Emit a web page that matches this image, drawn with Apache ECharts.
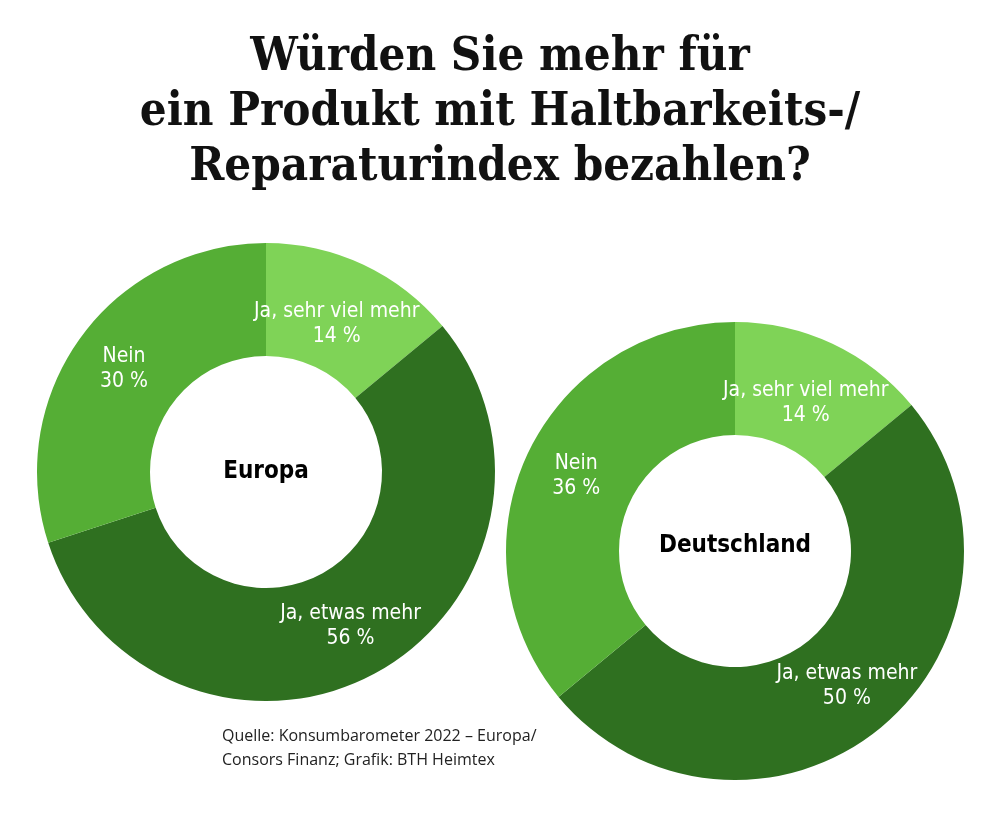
<!DOCTYPE html>
<html>
<head>
<meta charset="utf-8">
<script src="https://cdn.jsdelivr.net/npm/echarts@6/dist/echarts.min.js"></script>
<style>
html,body{margin:0;padding:0;background:#fff;}
#c{width:1000px;height:825px;}
</style>
</head>
<body>
<div id="c"></div>
<script>
const titleLines = ["Würden Sie mehr für", "ein Produkt mit Haltbarkeits-/", "Reparaturindex bezahlen?"];
const categories = ["Ja, sehr viel mehr", "Ja, etwas mehr", "Nein"];
const europaValues = [14, 56, 30];
const deutschlandValues = [14, 50, 36];
const chartNames = ["Europa", "Deutschland"];
const sourceLines = ["Quelle: Konsumbarometer 2022 – Europa/", "Consors Finanz; Grafik: BTH Heimtex"];
const colors = ["#7fd357", "#2f7020", "#55ae35"];

const labelFont = "'Liberation Sans Narrow','DejaVu Sans Condensed',sans-serif";

function makeSeries(name, values, center) {
  return {
    type: 'pie',
    name: name,
    center: center,
    radius: [116, 229],
    startAngle: 90,
    clockwise: true,
    silent: true,
    animation: false,
    avoidLabelOverlap: false,
    label: {
      show: true,
      position: 'inside',
      formatter: p => p.name + '\n' + p.value + ' %',
      color: '#fff',
      fontFamily: labelFont,
      fontSize: 21,
      lineHeight: 25,
      align: 'center',
      overflow: 'none'
    },
    labelLayout: p => (p.dataIndex === 0 ? { dx: -4, dy: 11 } : {}),
    labelLine: { show: false },
    itemStyle: { borderWidth: 0 },
    data: categories.map((c, i) => ({ name: c, value: values[i], itemStyle: { color: colors[i] } }))
  };
}

const chart = echarts.init(document.getElementById('c'), null, { renderer: 'canvas' });
const titleFont = "bold 47px 'DejaVu Serif Condensed','DejaVu Serif',serif";
chart.setOption({
  backgroundColor: '#fff',
  graphic: titleLines.map((t, i) => ({
    type: 'text', x: 500, y: 58 + i * 55,
    style: { text: t, font: titleFont, fill: '#111', align: 'center', verticalAlign: 'middle' }
  })).concat([
    {
      type: 'text', x: 266, y: 472,
      style: { text: chartNames[0], font: "bold 24px " + labelFont, fill: '#000', align: 'center', verticalAlign: 'middle' }
    },
    {
      type: 'text', x: 735, y: 546,
      style: { text: chartNames[1], font: "bold 24px " + labelFont, fill: '#000', align: 'center', verticalAlign: 'middle' }
    },
    {
      type: 'text', x: 222, y: 724,
      style: { text: sourceLines.join('\n'), font: "16px 'Open Sans',sans-serif", lineHeight: 24, fill: '#222' }
    }
  ]),
  series: [
    makeSeries(chartNames[0], europaValues, [266, 472]),
    makeSeries(chartNames[1], deutschlandValues, [735, 551])
  ]
});
</script>
</body>
</html>
